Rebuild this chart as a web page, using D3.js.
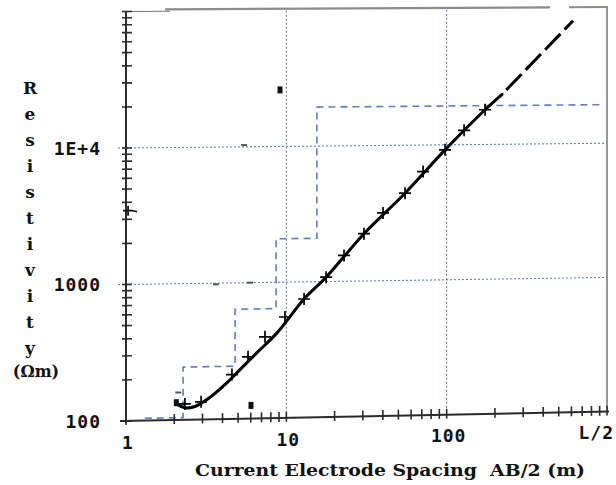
<!DOCTYPE html>
<html>
<head>
<meta charset="utf-8">
<script src="https://cdn.jsdelivr.net/npm/d3@7"></script>
<style>
  body { margin: 0; background: #fff; }
  svg { display: block; }
</style>
</head>
<body>
<div id="chart"></div>
<script>
// Field readings (crosses): AB/2 spacing in m and apparent resistivity in ohm-m.
const spacing = [2.33, 2.94, 4.58, 5.77, 7.36, 9.81, 12.9, 17.7, 22.9, 30.5, 40.1, 55.0, 71.3, 97.7, 128.4, 173.6];
const rhoObs = [131, 135, 212, 285, 398, 554, 748, 1077, 1553, 2237, 3173, 4418, 6364, 9180, 12780, 18100];

// Calculated sounding curve. Beyond dashFrom the curve is drawn dashed.
const curveAB = [2.08, 2.30, 2.69, 3.34, 4.27, 5.14, 6.56, 8.75, 12.9, 17.7, 30.5, 55.0, 97.7, 173.6, 221.6, 614];
const curveRho = [131, 123, 125, 145, 185, 230, 305, 424, 748, 1077, 2237, 4418, 9180, 18100, 23500, 82000];
const dashFrom = 221.6;

// Layered model (blue steps): left edge of each layer and its resistivity.
const layerAB = [1.31, 2.27, 4.79, 8.63, 15.5];
const layerRho = [104, 244, 640, 2090, 19400];
const modelEnd = 906;

// Stray marks on the sheet.
const squareAB = [2.06, 6.02, 9.13];
const squareRho = [134, 125, 26100];
const dashAB = [5.45, 3.64, 5.94, 2.12];
const dashRho = [10300, 981, 1000, 159];
const plusAB = [1.03];
const plusRho = [3470];

// Grid and labels.
const gridX = [10, 100];
const gridY = [1000, 10000];
const xLabelVals = [1, 10, 100, 1000];
const xLabelText = ['1', '10', '100', 'L/2'];
const yLabelVals = [100, 1000, 10000];
const yLabelText = ['100', '1000', '1E+4'];
const yTitle = 'Resistivity';
const yUnit = '(\u03A9m)';
const xTitle = 'Current Electrode Spacing  AB/2 (m)';

const width = 616, height = 485;
const svg = d3.select('#chart').append('svg')
  .attr('width', width)
  .attr('height', height);

const x = d3.scaleLog().domain([1, 1000]).range([126, 607]);
const y = d3.scaleLog().domain([100, 100000]).range([421, 11.5]);
const x0 = x(1), yBottom = y(100), yTop = y(100000), xRight = x(1000);

// The scanned sheet leans: lines rise toward the right, more so near the bottom.
function warp(px, py) {
  const k = 0.005 + 0.0145 * (py - 10) / 411;
  return [px, py - k * (px - x0)];
}

const line = d3.line();

function seg(g, x1, y1, x2, y2) {
  return g.append('path').attr('d', line([warp(x1, y1), warp(x2, y2)]));
}

// Grid lines.
const grid = svg.append('g')
  .attr('fill', 'none')
  .attr('stroke', '#4a78b8')
  .attr('stroke-width', 1)
  .attr('stroke-dasharray', '2,2');
gridX.forEach(v => seg(grid, x(v), yTop, x(v), yBottom));
gridY.forEach(v => seg(grid, x0 - 8, y(v), xRight, y(v)));

// Layered model as a dashed step line.
const stepPts = [];
layerAB.forEach((a, i) => {
  const next = i < layerAB.length - 1 ? layerAB[i + 1] : modelEnd;
  stepPts.push([x(a), y(layerRho[i])]);
  stepPts.push([x(next), y(layerRho[i])]);
});
svg.append('path')
  .attr('d', line(stepPts.map(p => warp(p[0], p[1]))))
  .attr('fill', 'none')
  .attr('stroke', '#5a80bf')
  .attr('stroke-width', 1.6)
  .attr('stroke-dasharray', '7,5');

// Frame: top edge, right edge.
const frame = svg.append('g').attr('fill', 'none');
seg(frame, x0, yTop, x0 + 44, yTop).attr('stroke', '#777').attr('stroke-width', 1);
seg(frame, x0 + 39, yTop - 2, 550, yTop - 2).attr('stroke', '#8c8c8c').attr('stroke-width', 2.2);
seg(frame, 569, yTop - 2, xRight, yTop - 2).attr('stroke', '#8c8c8c').attr('stroke-width', 2);
seg(frame, xRight, yTop - 3, xRight, yBottom).attr('stroke', '#70819a').attr('stroke-width', 1.6);

// Axes with log ticks crossing the lines.
const axes = svg.append('g')
  .attr('fill', 'none')
  .attr('stroke', '#2b2b2b')
  .attr('stroke-width', 1.6);
seg(axes, x0 - 6, yBottom, xRight + 2, yBottom).attr('stroke-width', 2);
seg(axes, x0, yTop, x0, yBottom + 2).attr('stroke-width', 2);
x.ticks().forEach(t => seg(axes, x(t), yBottom - 6, x(t), yBottom + 4));
y.ticks().forEach(t => seg(axes, x0 - 4, y(t), x0 + 6, y(t)));

// Calculated curve.
const curveLine = d3.line().curve(d3.curveCatmullRom);
const curvePts = curveAB.map((a, i) => ({ a, p: warp(x(a), y(curveRho[i])) }));
svg.append('path')
  .attr('d', curveLine(curvePts.filter(d => d.a <= dashFrom).map(d => d.p)))
  .attr('fill', 'none')
  .attr('stroke', '#000')
  .attr('stroke-width', 3)
  .attr('stroke-linecap', 'round');
svg.append('path')
  .attr('d', line(curvePts.filter(d => d.a >= dashFrom).map(d => d.p)))
  .attr('fill', 'none')
  .attr('stroke', '#000')
  .attr('stroke-width', 3)
  .attr('stroke-dasharray', '22,6')
  .attr('stroke-dashoffset', -6);

// Observed points as crosses.
svg.append('g')
  .selectAll('path')
  .data(spacing.map((a, i) => warp(x(a), y(rhoObs[i]))))
  .join('path')
  .attr('transform', d => `translate(${d[0]},${d[1]})`)
  .attr('d', 'M-6,0H6M0,-6V6')
  .attr('fill', 'none')
  .attr('stroke', '#000')
  .attr('stroke-width', 1.7);

// Stray marks.
svg.append('g')
  .selectAll('rect')
  .data(squareAB.map((a, i) => warp(x(a), y(squareRho[i]))))
  .join('rect')
  .attr('x', d => d[0] - 2.5)
  .attr('y', d => d[1] - 3.5)
  .attr('width', 5)
  .attr('height', 7)
  .attr('fill', '#111');
svg.append('g')
  .selectAll('path')
  .data(dashAB.map((a, i) => warp(x(a), y(dashRho[i]))))
  .join('path')
  .attr('d', d => `M${d[0] - 3},${d[1]}H${d[0] + 3}`)
  .attr('stroke', '#555')
  .attr('stroke-width', 2);
svg.append('g')
  .selectAll('path')
  .data(plusAB.map((a, i) => warp(x(a), y(plusRho[i]))))
  .join('path')
  .attr('transform', d => `translate(${d[0]},${d[1]})`)
  .attr('d', 'M-5,0H5M0,-5V5M5,0l4,1')
  .attr('fill', 'none')
  .attr('stroke', '#111')
  .attr('stroke-width', 1.7);

// Tick labels.
const labelFont = "'DejaVu Sans Mono', monospace";
svg.append('g')
  .selectAll('text')
  .data(xLabelVals)
  .join('text')
  .attr('x', (d, i) => {
    const p = warp(x(d), yBottom + 28);
    return i === xLabelVals.length - 1 ? p[0] + 7 : p[0] + 2;
  })
  .attr('y', d => warp(x(d), yBottom + 28)[1])
  .attr('text-anchor', (d, i) => i === xLabelVals.length - 1 ? 'end' : 'middle')
  .attr('font-family', labelFont)
  .attr('font-weight', 'bold')
  .attr('font-size', 18)
  .attr('letter-spacing', 1)
  .attr('fill', '#111')
  .text((d, i) => xLabelText[i]);

svg.append('g')
  .selectAll('text')
  .data(yLabelVals)
  .join('text')
  .attr('x', 101)
  .attr('y', d => y(d) + 6.5)
  .attr('text-anchor', 'end')
  .attr('font-family', labelFont)
  .attr('font-weight', 'bold')
  .attr('font-size', 18)
  .attr('letter-spacing', 1)
  .attr('fill', '#111')
  .text((d, i) => yLabelText[i]);

// Axis titles.
const titleFont = "'DejaVu Serif', serif";
svg.append('g')
  .selectAll('text')
  .data(yTitle.split(''))
  .join('text')
  .attr('x', 30)
  .attr('y', (d, i) => 94 + 26 * i)
  .attr('text-anchor', 'middle')
  .attr('font-family', titleFont)
  .attr('font-weight', 'bold')
  .attr('font-size', 17)
  .attr('fill', '#111')
  .text(d => d);
svg.append('text')
  .attr('x', 36)
  .attr('y', 377)
  .attr('text-anchor', 'middle')
  .attr('font-family', titleFont)
  .attr('font-weight', 'bold')
  .attr('font-size', 16)
  .attr('fill', '#111')
  .text(yUnit);

const xt = svg.append('text')
  .attr('x', 195)
  .attr('y', 476)
  .attr('font-family', titleFont)
  .attr('font-weight', 'bold')
  .attr('font-size', 16)
  .attr('fill', '#111')
  .style('white-space', 'pre')
  .text(xTitle);
xt.attr('textLength', 390).attr('lengthAdjust', 'spacingAndGlyphs');
</script>
</body>
</html>
